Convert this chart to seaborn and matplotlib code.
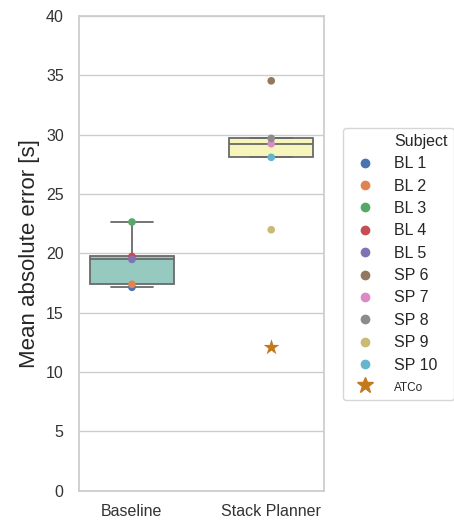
import matplotlib
matplotlib.use("Agg")
import matplotlib.pyplot as plt
from matplotlib.lines import Line2D
import pandas as pd
import seaborn as sns

# Per-subject mean absolute error for each condition
conditions = ["Baseline", "Stack Planner"]
condition = ["Baseline"] * 5 + ["Stack Planner"] * 5
subjects = ["BL 1", "BL 2", "BL 3", "BL 4", "BL 5",
            "SP 6", "SP 7", "SP 8", "SP 9", "SP 10"]
mae = [17.15, 17.4, 22.65, 19.75, 19.5,
       34.55, 29.25, 29.7, 22.0, 28.1]

# Reference controller (ATCo) result
atco_condition = ["Stack Planner"]
atco_mae = [12.1]

yticks = [0, 5, 10, 15, 20, 25, 30, 35, 40]

df = pd.DataFrame({"Condition": condition, "Subject": subjects, "MAE": mae})
atco = pd.DataFrame({"Condition": atco_condition, "MAE": atco_mae})

sns.set_theme(style="whitegrid")
plt.rcParams["font.family"] = ["Liberation Sans", "DejaVu Sans"]

fig = plt.figure(figsize=(4.54, 5.21), dpi=100)
ax = fig.add_axes([0.174, 0.058, 0.540, 0.911])

sns.boxplot(data=df, x="Condition", y="MAE", hue="Condition", order=conditions,
            palette="Set3", width=0.6, showfliers=False, linewidth=1.3,
            legend=False, ax=ax)
pal = sns.color_palette("deep", 10)
sns.stripplot(data=df, x="Condition", y="MAE", hue="Subject", order=conditions,
              hue_order=subjects, palette=pal, jitter=False, size=5.5,
              legend=False, ax=ax, zorder=3)
star_color = "#c47a1c"
sns.stripplot(data=atco, x="Condition", y="MAE", order=conditions,
              color=star_color, marker="*", size=12, jitter=False, ax=ax,
              zorder=3)

ax.set_xlim(-0.38, 1.38)
ax.set_ylim(0, 40)
ax.set_yticks(yticks)
ax.set_xlabel("")
ax.set_ylabel("Mean absolute error [s]", fontsize=16)
ax.tick_params(axis="both", labelsize=11.5, colors="#333333")
ax.tick_params(axis="y", pad=5)

handles = [Line2D([], [], linestyle="none", marker="")]
handles += [Line2D([], [], linestyle="none", marker="o", markersize=6,
                   markerfacecolor=c, markeredgecolor=c) for c in pal]
handles.append(Line2D([], [], linestyle="none", marker="*", markersize=12,
                      markerfacecolor=star_color, markeredgecolor=star_color))
labels = ["Subject"] + subjects + ["ATCo"]
leg = fig.legend(handles, labels, loc="upper left",
                 bbox_to_anchor=(0.7555, 0.755), borderaxespad=0,
                 fontsize=11.5, labelspacing=0.46, handlelength=2.0,
                 handletextpad=0.8, borderpad=0.4)
leg.get_texts()[-1].set_fontsize(8.5)

fig.savefig("out.png", dpi=100)
